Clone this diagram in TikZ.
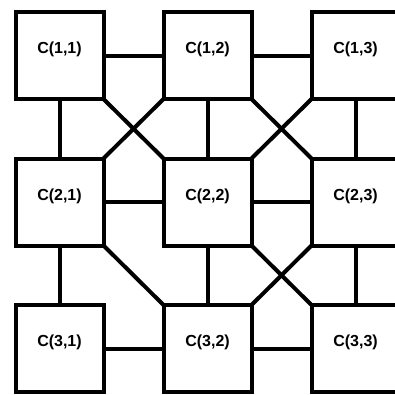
\documentclass[tikz,border=0pt]{standalone}
\usepackage{fontspec}
\setmainfont{Liberation Sans}
\usepackage{tikz}
\usetikzlibrary{positioning}

\begin{document}
\begin{tikzpicture}[x=1pt, y=-1pt, node distance=59.5pt and 60pt, line width=4pt]
  \tikzstyle{cell}=[draw, line width=4pt, minimum width=88pt, minimum height=87pt, inner sep=0pt, outer sep=0pt, font=\fontsize{16}{19}\selectfont\bfseries, text height=12pt, text depth=15.6pt]
  \tikzstyle{link}=[line width=4pt]
  \useasboundingbox (0,0) rectangle (395,394);
  \clip (0,0) rectangle (395,394);
  \node[cell] (c11) at (59.5,55.5) {C(1,1)};
  \node[cell, right=of c11] (c12) {C(1,2)};
  \node[cell, right=of c12] (c13) {C(1,3)};
  \node[cell, below=of c11] (c21) {C(2,1)};
  \node[cell, right=of c21] (c22) {C(2,2)};
  \node[cell, right=of c22] (c23) {C(2,3)};
  \node[cell, below=of c21] (c31) {C(3,1)};
  \node[cell, right=of c31] (c32) {C(3,2)};
  \node[cell, right=of c32] (c33) {C(3,3)};
  \draw[link] (c11.east) -- (c12.west);
  \draw[link] (c12.east) -- (c13.west);
  \draw[link] (c21.east) -- (c22.west);
  \draw[link] (c22.east) -- (c23.west);
  \draw[link] (c31.east) -- (c32.west);
  \draw[link] (c32.east) -- (c33.west);
  \draw[link] (c11.south) -- (c21.north);
  \draw[link] (c12.south) -- (c22.north);
  \draw[link] (c13.south) -- (c23.north);
  \draw[link] (c21.south) -- (c31.north);
  \draw[link] (c22.south) -- (c32.north);
  \draw[link] (c23.south) -- (c33.north);
  \draw[link] (c11.south east) -- (c22.north west);
  \draw[link] (c12.south west) -- (c21.north east);
  \draw[link] (c12.south east) -- (c23.north west);
  \draw[link] (c13.south west) -- (c22.north east);
  \draw[link] (c21.south east) -- (c32.north west);
  \draw[link] (c22.south east) -- (c33.north west);
  \draw[link] (c23.south west) -- (c32.north east);
\end{tikzpicture}
\end{document}
